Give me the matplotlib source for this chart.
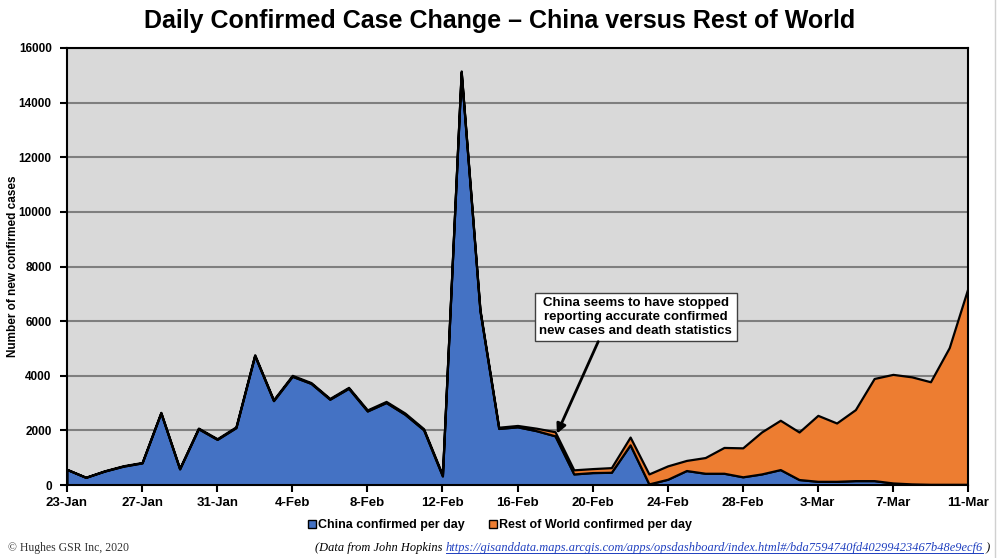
import matplotlib
matplotlib.use("Agg")
from matplotlib import pyplot as plt
from matplotlib.lines import Line2D
import pandas as pd

plt.rcParams['font.family'] = ['Liberation Sans', 'DejaVu Sans']
NARROW = ['Liberation Sans Narrow', 'Liberation Sans', 'DejaVu Sans']

# daily values, 23-Jan .. 11-Mar 2020
dates = pd.date_range('2020-01-23', '2020-03-11')
date_labels = [f"{d.day}-{d.strftime('%b')}" for d in dates]

china = [570, 280, 510, 690, 810, 2640, 590, 2060, 1670, 2100,
         4740, 3090, 3980, 3720, 3140, 3540, 2710, 3020, 2590, 2020,
         330, 15120, 6380, 2070, 2130, 1990, 1800, 405, 455, 466,
         1470, 40, 210, 530, 430, 430, 300, 405, 565, 200,
         135, 135, 160, 160, 75, 40, 25, 25, 25]
rest_of_world = [0, 5, 10, 15, 15, 20, 20, 25, 25, 30,
                 30, 30, 35, 30, 30, 35, 40, 40, 45, 40,
                 45, 40, 50, 45, 50, 90, 150, 150, 145, 170,
                 285, 365, 490, 370, 575, 945, 1060, 1535, 1805, 1740,
                 2415, 2135, 2600, 3740, 3975, 3920, 3755, 5005, 7190]

blue = '#4472c4'
orange = '#ed7d31'

fig = plt.figure(figsize=(10, 5.58), dpi=100)
ax = fig.add_axes([0.067, 1 - 485 / 558, 0.901, 437 / 558])
ax.set_facecolor('#d9d9d9')

x = list(range(len(china)))
ax.stackplot(x, china, rest_of_world, colors=[blue, orange],
             edgecolor='black', linewidth=1.6, zorder=3)

ax.set_xlim(0, len(china) - 1)
ax.set_ylim(0, 16000)
ax.set_yticks(range(0, 16001, 2000))
ax.set_yticklabels([str(v) for v in range(0, 16001, 2000)],
                   fontsize=8.5, fontweight='bold')
ax.set_xticks(x[::4])
ax.set_xticklabels(date_labels[::4], fontsize=9.5, fontweight='bold',
                   family=NARROW)
ax.tick_params(axis='both', direction='out', length=5, width=1.5, color='black')
ax.tick_params(axis='y', pad=6)
ax.grid(axis='y', color='#7f7f7f', linewidth=1.5, zorder=1)
ax.set_axisbelow(True)
for s in ax.spines.values():
    s.set_linewidth(1.5)
    s.set_color('black')
    s.set_zorder(5)

ax.set_ylabel('Number of new confirmed cases', fontsize=8.5, fontweight='bold')
ax.yaxis.set_label_coords(-0.053, 0.5)

fig.text(0.5, 1 - 21 / 558, 'Daily Confirmed Case Change \u2013 China versus Rest of World',
         ha='center', va='center', fontsize=18, fontweight='bold', family=NARROW)

# annotation box and arrow
ax.text(30.3, 6150, 'China seems to have stopped\nreporting accurate confirmed\nnew cases and death statistics',
        ha='center', va='center', fontsize=9.5, fontweight='bold', linespacing=1.2,
        bbox=dict(boxstyle='square,pad=0.35', facecolor='white', edgecolor='#404040',
                  linewidth=1), zorder=6)
ax.annotate('', xy=(26.1, 1880), xytext=(28.3, 5250),
            arrowprops=dict(arrowstyle='-|>', color='black', linewidth=2,
                            mutation_scale=14, shrinkA=0, shrinkB=0), zorder=6)

# legend
handles = [plt.Rectangle((0, 0), 1, 1, facecolor=blue, edgecolor='black', linewidth=1),
           plt.Rectangle((0, 0), 1, 1, facecolor=orange, edgecolor='black', linewidth=1)]
fig.legend(handles, ['China confirmed per day', 'Rest of World confirmed per day'],
           loc='center', bbox_to_anchor=(0.5, 1 - 525 / 558), ncol=2, frameon=False,
           handlelength=0.6, handleheight=0.6, handletextpad=0.15, columnspacing=2.0,
           prop={'family': NARROW, 'weight': 'bold', 'size': 9})

# footer
serif = ['Liberation Serif', 'DejaVu Serif']
foot_y = 1 - 548 / 558
foot_size = 8.9
fig.text(0.008, foot_y, '\u00a9 Hughes GSR Inc, 2020', ha='left', va='center',
         fontsize=8.5, family=serif, color='#333333')

t1 = fig.text(0.315, foot_y, '(Data from John Hopkins ', ha='left', va='center',
              fontsize=foot_size, style='italic', family=serif)
fig.canvas.draw()
r = fig.canvas.get_renderer()
bb1 = t1.get_window_extent(r)
url = 'https://gisanddata.maps.arcgis.com/apps/opsdashboard/index.html#/bda7594740fd40299423467b48e9ecf6'
t2 = fig.text(bb1.x1 / fig.bbox.width, foot_y, url, ha='left', va='center',
              fontsize=foot_size, style='italic', family=serif, color='#1f3fbf')
fig.canvas.draw()
bb2 = t2.get_window_extent(r)
fig.text(bb2.x1 / fig.bbox.width, foot_y, ' )', ha='left', va='center',
         fontsize=foot_size, style='italic', family=serif)
uy = (bb2.y0 + 1) / fig.bbox.height
fig.add_artist(Line2D([bb2.x0 / fig.bbox.width, bb2.x1 / fig.bbox.width], [uy, uy],
                      color='#1f3fbf', linewidth=0.7))

# light frame line on the right edge
fig.add_artist(Line2D([0.995, 0.995], [0, 1], color='#d0d0d0', linewidth=1))

fig.savefig('out.png', dpi=100)
